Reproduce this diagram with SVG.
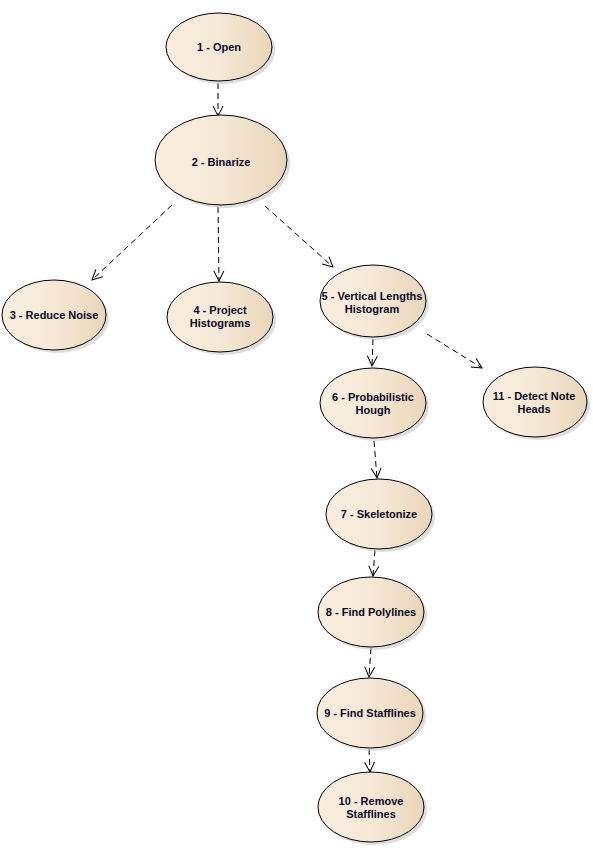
<svg xmlns="http://www.w3.org/2000/svg" width="593" height="849" viewBox="0 0 593 849">
<defs>
<linearGradient id="g" x1="0" y1="0" x2="1" y2="0">
<stop offset="0" stop-color="#f9eedf"/>
<stop offset="0.5" stop-color="#f5e8d5"/>
<stop offset="1" stop-color="#e9d6b9"/>
</linearGradient>
<marker id="a" viewBox="0 0 12 12" refX="11" refY="6" markerWidth="12" markerHeight="12" markerUnits="userSpaceOnUse" orient="auto">
<path d="M1,1 L11,6 L1,11" fill="none" stroke="#000" stroke-width="1"/>
</marker>
</defs>
<style>
.n ellipse.b{fill:url(#g);stroke:#000;stroke-width:1}
.n ellipse.s{fill:#c8c8c8;stroke:none;opacity:0.6}
.n text{font-family:"Liberation Sans",Arial,sans-serif;font-size:11px;font-weight:bold;fill:#0a0a2a;text-anchor:middle}
#edges line{stroke:#000;stroke-width:1;stroke-dasharray:6,4;fill:none;marker-end:url(#a)}
</style>
<rect width="593" height="849" fill="#fff"/>
<g id="edges">
<line x1="218" y1="83" x2="218" y2="116"/>
<line x1="172" y1="205" x2="92" y2="280"/>
<line x1="218" y1="207" x2="219" y2="281"/>
<line x1="265" y1="206" x2="333" y2="267"/>
<line x1="373" y1="339" x2="372" y2="366"/>
<line x1="427" y1="334" x2="482" y2="368"/>
<line x1="374" y1="441" x2="377" y2="478"/>
<line x1="375" y1="550" x2="373" y2="576"/>
<line x1="371" y1="648" x2="369" y2="677"/>
<line x1="369" y1="749" x2="370" y2="772"/>
</g>
<g id="n1" class="n"><ellipse class="s" cx="222" cy="50" rx="53" ry="34"/><ellipse class="b" cx="219" cy="47" rx="53" ry="34"/><text x="219" y="51">1 - Open</text></g>
<g id="n2" class="n"><ellipse class="s" cx="224" cy="163" rx="66" ry="45"/><ellipse class="b" cx="221" cy="160" rx="66" ry="45"/><text x="221" y="166">2 - Binarize</text></g>
<g id="n3" class="n"><ellipse class="s" cx="57" cy="318" rx="52" ry="35"/><ellipse class="b" cx="54" cy="315" rx="52" ry="35"/><text x="54" y="319">3 - Reduce Noise</text></g>
<g id="n4" class="n"><ellipse class="s" cx="223" cy="320" rx="53" ry="35"/><ellipse class="b" cx="220" cy="317" rx="53" ry="35"/><text x="220" y="314">4 - Project</text><text x="220" y="327">Histograms</text></g>
<g id="n5" class="n"><ellipse class="s" cx="376" cy="304" rx="53" ry="36"/><ellipse class="b" cx="373" cy="301" rx="53" ry="36"/><text x="372" y="300">5 - Vertical Lengths</text><text x="372" y="313">Histogram</text></g>
<g id="n6" class="n"><ellipse class="s" cx="376" cy="406" rx="53" ry="35"/><ellipse class="b" cx="373" cy="403" rx="53" ry="35"/><text x="373" y="401">6 - Probabilistic</text><text x="373" y="414">Hough</text></g>
<g id="n11" class="n"><ellipse class="s" cx="538" cy="405" rx="52" ry="35"/><ellipse class="b" cx="535" cy="402" rx="52" ry="35"/><text x="534" y="400">11 - Detect Note</text><text x="534" y="413">Heads</text></g>
<g id="n7" class="n"><ellipse class="s" cx="382" cy="517" rx="53" ry="35"/><ellipse class="b" cx="379" cy="514" rx="53" ry="35"/><text x="379" y="518">7 - Skeletonize</text></g>
<g id="n8" class="n"><ellipse class="s" cx="374" cy="615" rx="53" ry="35"/><ellipse class="b" cx="371" cy="612" rx="53" ry="35"/><text x="371" y="616">8 - Find Polylines</text></g>
<g id="n9" class="n"><ellipse class="s" cx="373" cy="716" rx="53" ry="35"/><ellipse class="b" cx="370" cy="713" rx="53" ry="35"/><text x="370" y="717">9 - Find Stafflines</text></g>
<g id="n10" class="n"><ellipse class="s" cx="374" cy="810" rx="53" ry="35"/><ellipse class="b" cx="371" cy="807" rx="53" ry="35"/><text x="371" y="805">10 - Remove</text><text x="371" y="818">Stafflines</text></g>
</svg>
